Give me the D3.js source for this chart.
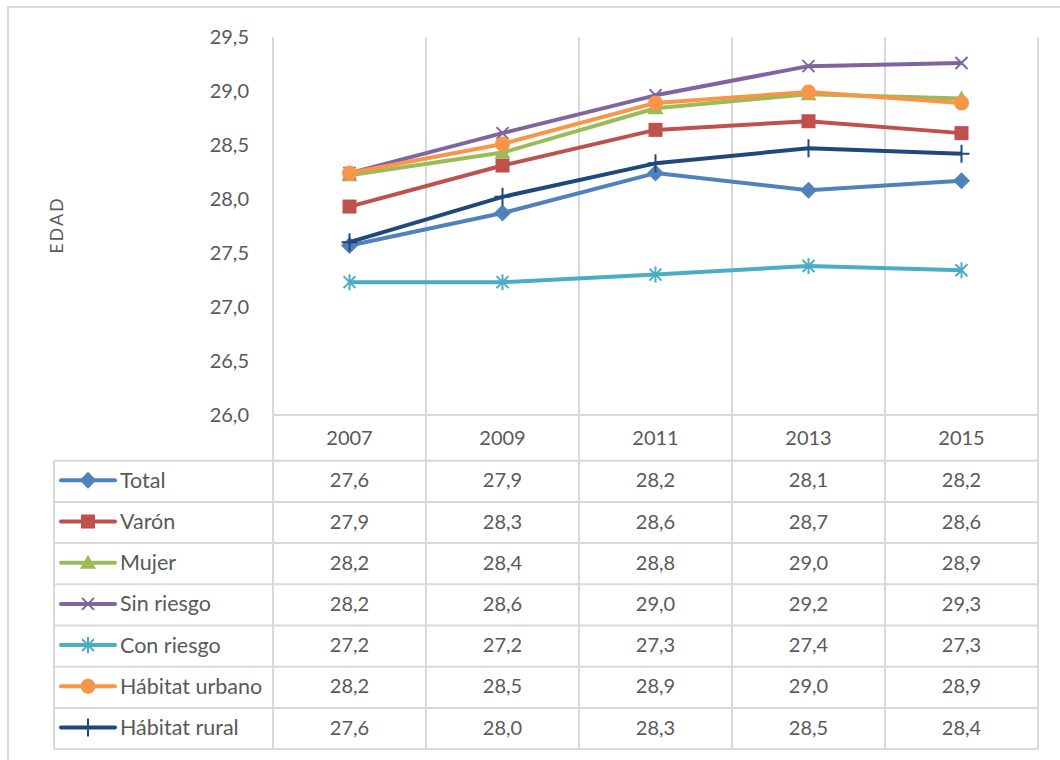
<!DOCTYPE html>
<html><head><meta charset="utf-8">
<script src="https://cdn.jsdelivr.net/npm/d3@7"></script>
<style>
body{margin:0;background:#fff}
text{font-family:Lato,"Open Sans",sans-serif;fill:#595959}
</style>
</head><body>
<svg id="c" width="1060" height="760"></svg>
<script>
// ---- data ----
const years = ["2007","2009","2011","2013","2015"];
const seriesNames = ["Total","Varón","Mujer","Sin riesgo","Con riesgo","Hábitat urbano","Hábitat rural"];
const total     = [27.57,27.87,28.24,28.08,28.17];
const varon     = [27.93,28.31,28.64,28.72,28.61];
const mujer     = [28.22,28.43,28.84,28.97,28.93];
const sinRiesgo = [28.24,28.61,28.96,29.23,29.26];
const conRiesgo = [27.23,27.23,27.30,27.38,27.34];
const urbano    = [28.24,28.51,28.89,28.99,28.89];
const rural     = [27.60,28.02,28.33,28.47,28.42];
const yTicks = [26,26.5,27,27.5,28,28.5,29,29.5];
const yLabel = "EDAD";

// ---- styles ----
const colors  = ["#4F81BD","#C0504D","#9BBB59","#8064A2","#4BACC6","#F79646","#1F497D"];
const markers = ["diamond","square","triangle","x","star","circle","plus"];
const allSeries = [total,varon,mujer,sinRiesgo,conRiesgo,urbano,rural];

const svg = d3.select("#c");
const grid = "#d9d9d9";
const plotL = 273, plotR = 1038, plotT = 37, plotB = 415;
const tableL = 54, rowH = 41.2, headB = 460.7;
const tableB = headB + rowH*seriesNames.length;

const x = d3.scaleBand().domain(years).range([plotL, plotR]).padding(0);
const y = d3.scaleLinear().domain([26,29.5]).range([plotB, plotT]);
const fmt = v => d3.format(".1f")(v).replace(".", ",");

// outer border
svg.append("rect").attr("x",8).attr("y",7).attr("width",1200).attr("height",900)
  .attr("fill","none").attr("stroke",grid).attr("stroke-width",2);

// vertical gridlines / column separators
const bounds = [plotL].concat(years.map(d => x(d) + x.bandwidth()));
svg.selectAll("line.v").data(bounds).enter().append("line")
  .attr("x1",d=>d).attr("x2",d=>d).attr("y1",plotT).attr("y2",tableB)
  .attr("stroke",grid).attr("stroke-width",2);
// table horizontals
svg.append("line").attr("x1",plotL).attr("x2",plotR).attr("y1",plotB).attr("y2",plotB)
  .attr("stroke",grid).attr("stroke-width",2);
const rowLines = d3.range(seriesNames.length+1).map(i => headB + i*rowH);
svg.selectAll("line.h").data(rowLines).enter().append("line")
  .attr("x1",tableL).attr("x2",plotR).attr("y1",d=>d).attr("y2",d=>d)
  .attr("stroke",grid).attr("stroke-width",2);
svg.append("line").attr("x1",tableL).attr("x2",tableL).attr("y1",headB).attr("y2",tableB)
  .attr("stroke",grid).attr("stroke-width",2);

// y axis ticks
const yAxis = d3.axisLeft(y).tickValues(yTicks).tickFormat(fmt).tickSize(0).tickPadding(24);
const ya = svg.append("g").attr("transform",`translate(${plotL},0)`).call(yAxis);
ya.select(".domain").remove();
ya.selectAll("text").style("font-size","20px").style("font-family","Lato").attr("fill","#595959");

// y label
svg.append("text").attr("transform","translate(63,225) rotate(-90)")
  .attr("text-anchor","middle").style("font-size","18px").style("letter-spacing","2px").text(yLabel);

// header years
svg.selectAll("text.yr").data(years).enter().append("text")
  .attr("x",d=>x(d)+x.bandwidth()/2).attr("y",(plotB+headB)/2).attr("dy","0.35em")
  .attr("text-anchor","middle").style("font-size","20px").text(d=>d);

function drawMarker(g, type, color){
  if(type==="diamond") g.append("path").attr("d","M0,-8.5L8.5,0L0,8.5L-8.5,0Z").attr("fill",color);
  else if(type==="square") g.append("rect").attr("x",-7).attr("y",-7).attr("width",14).attr("height",14).attr("fill",color);
  else if(type==="triangle") g.append("path").attr("d","M0,-8L8,6L-8,6Z").attr("fill",color);
  else if(type==="circle") g.append("circle").attr("r",7.5).attr("fill",color);
  else if(type==="x") g.append("path").attr("d","M-6,-6L6,6M-6,6L6,-6").attr("stroke",color).attr("stroke-width",2);
  else if(type==="star") g.append("path").attr("d","M-6,-6L6,6M-6,6L6,-6M0,-8L0,8").attr("stroke",color).attr("stroke-width",2);
  else if(type==="plus") g.append("path").attr("d","M0,-9L0,9M-8,0L8,0").attr("stroke",color).attr("stroke-width",2);
}

const line = d3.line().x((d,i)=>x(years[i])+x.bandwidth()/2).y(d=>y(d));
allSeries.forEach((vals,si)=>{
  const g = svg.append("g");
  g.append("path").datum(vals).attr("d",line).attr("fill","none")
    .attr("stroke",colors[si]).attr("stroke-width",4).attr("stroke-linejoin","round");
  vals.forEach((v,i)=>{
    const m = g.append("g").attr("transform",`translate(${x(years[i])+x.bandwidth()/2},${y(v)})`);
    drawMarker(m, markers[si], colors[si]);
  });
});

// table rows
seriesNames.forEach((name,si)=>{
  const cy = headB + si*rowH + rowH/2 - 1;
  svg.append("line").attr("x1",61).attr("x2",115).attr("y1",cy).attr("y2",cy)
    .attr("stroke",colors[si]).attr("stroke-width",4).attr("stroke-linecap","round");
  drawMarker(svg.append("g").attr("transform",`translate(88,${cy})`), markers[si], colors[si]);
  svg.append("text").attr("x",120).attr("y",cy).attr("dy","0.35em").style("font-size","21.5px").text(name);
  allSeries[si].forEach((v,i)=>{
    svg.append("text").attr("x",x(years[i])+x.bandwidth()/2).attr("y",cy).attr("dy","0.35em")
      .attr("text-anchor","middle").style("font-size","20px").text(fmt(v));
  });
});
</script>
</body></html>
